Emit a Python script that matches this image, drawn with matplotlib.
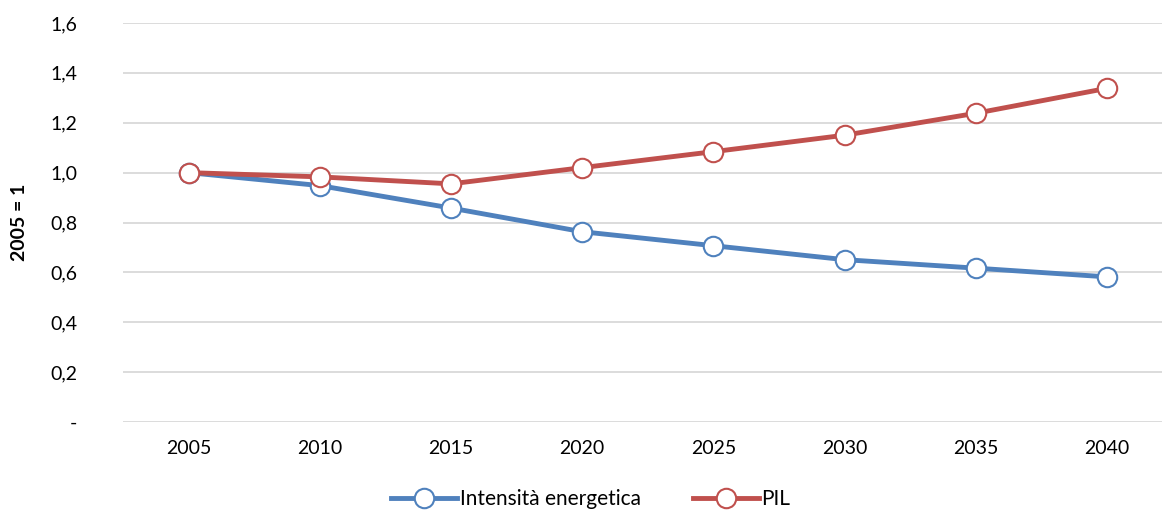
import matplotlib.pyplot as plt

plt.rcParams['font.family'] = ['Lato', 'DejaVu Sans']

anni = ['2005', '2010', '2015', '2020', '2025', '2030', '2035', '2040']
intensita = [1.0, 0.948, 0.858, 0.763, 0.707, 0.651, 0.617, 0.582]
pil = [1.0, 0.983, 0.955, 1.020, 1.084, 1.150, 1.238, 1.338]
y_ticks = [0, 0.2, 0.4, 0.6, 0.8, 1.0, 1.2, 1.4, 1.6]
y_labels = ['-', '0,2', '0,4', '0,6', '0,8', '1,0', '1,2', '1,4', '1,6']

fig = plt.figure(figsize=(11.62, 5.16), dpi=100)
ax = fig.add_axes([123 / 1162, 94 / 516, 1 - 123 / 1162, 399 / 516])

x = list(range(len(anni)))
ax.plot(x, intensita, color='#4F81BD', lw=3.5, marker='o', ms=14,
        mfc='white', mec='#4F81BD', mew=1.5, label='Intensità energetica', zorder=3)
ax.plot(x, pil, color='#C0504D', lw=3.5, marker='o', ms=14,
        mfc='white', mec='#C0504D', mew=1.5, label='PIL', zorder=4)

ax.set_xlim(-0.5, 7.42)
ax.set_ylim(0, 1.6)
ax.set_xticks(x)
ax.set_xticklabels(anni)
ax.set_yticks(y_ticks)
ax.set_yticklabels(y_labels)
ax.tick_params(length=0, labelsize=14, colors='#000000')
ax.tick_params(axis='x', pad=13)
ax.tick_params(axis='y', pad=33)
ax.grid(axis='y', color='#d9d9d9', lw=1.3)
ax.set_axisbelow(True)
for s in ax.spines.values():
    s.set_visible(False)

ax.set_ylabel('2005 = 1', fontsize=14, fontweight='bold', labelpad=16)

ax.legend(loc='lower center', bbox_to_anchor=(0.45, -0.265),
          ncol=2, frameon=False, fontsize=15, handlelength=3.2,
          handletextpad=0.1, columnspacing=2.5)

fig.savefig('out.png', dpi=100)
